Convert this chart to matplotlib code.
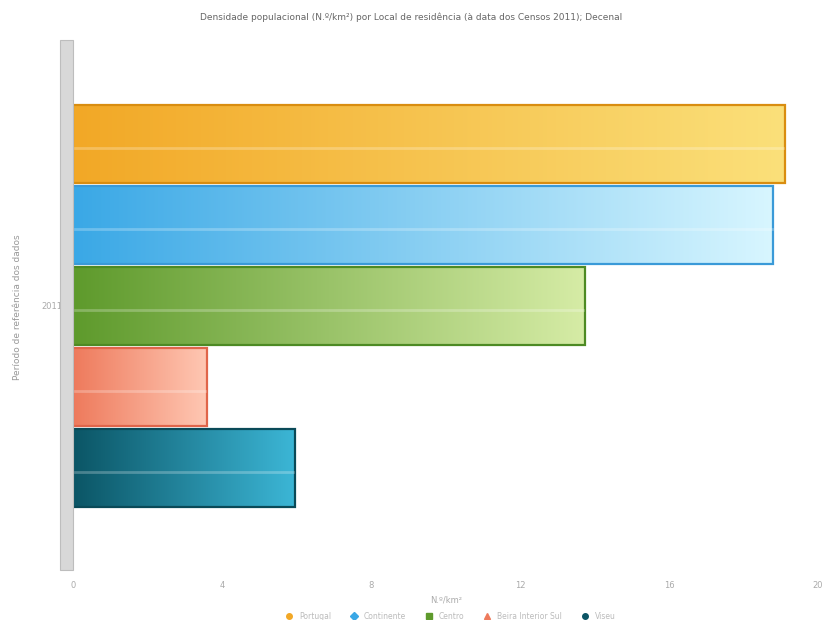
import numpy as np
import matplotlib.pyplot as plt
from matplotlib.colors import LinearSegmentedColormap
from matplotlib.patches import Rectangle
from matplotlib.lines import Line2D

plt.rcParams['font.family'] = ['DejaVu Sans']

series = ["Portugal", "Continente", "Centro", "Beira Interior Sul", "Viseu"]
values = [19.1, 18.8, 13.75, 3.6, 5.95]
period = "2011"
x_ticks = [0, 4, 8, 12, 16, 20]

# gradient (left, right) and edge colour per series
grads = [("#f2a826", "#fbe07a"), ("#3aa8e6", "#d8f6ff"), ("#5e9a2c", "#d6eca6"),
         ("#ee7a5c", "#ffc8b4"), ("#0b5565", "#3cb6d6")]
edges = ["#d98d10", "#3a9ad8", "#4d8a24", "#e0654a", "#0a4a58"]
markers = ["o", "D", "s", "^", "o"]

fig = plt.figure(figsize=(8.23, 6.2), dpi=100)
ax = fig.add_axes([0.089, 0.081, 0.905, 0.846])

# 3d back wall on the left
fig.patches.append(Rectangle((0.073, 0.081), 0.016, 0.855, transform=fig.transFigure,
                             facecolor="#d8d8d8", edgecolor="#bdbdbd", lw=0.8, zorder=0))

ys = np.arange(len(series))
h = 0.96
bars = ax.barh(ys, values, height=h, color="none", edgecolor=edges, linewidth=1.6, zorder=3)
grad = np.linspace(0, 1, 256).reshape(1, -1)
for b, (c0, c1), v, y in zip(bars, grads, values, ys):
    cmap = LinearSegmentedColormap.from_list("g", [c0, c1])
    im = ax.imshow(grad, cmap=cmap, aspect="auto", extent=[0, v, y + h / 2, y - h / 2],
                   zorder=2, interpolation="bicubic")
    im.set_clip_path(b)
    # light horizontal highlight band
    ax.plot([0.05, v - 0.05], [y + 0.05, y + 0.05], color="white", alpha=0.25, lw=2, zorder=4)

ax.set_xlim(0, 20)
ax.set_ylim(len(series) - 0.5 + 0.76, -0.5 - 0.72)
ax.set_xticks(x_ticks)
ax.set_xticklabels([str(t) for t in x_ticks], fontsize=6, color="#aaaaaa")
ax.set_yticks([2])
ax.set_yticklabels([period], fontsize=6, color="#aaaaaa")
ax.tick_params(length=0, pad=8)
for s in ax.spines.values():
    s.set_visible(False)
ax.set_xlabel("N.º/km²", fontsize=6, color="#aaaaaa", labelpad=4)
ax.set_ylabel("Período de referência dos dados", fontsize=6.5, color="#999999", labelpad=14)

fig.text(0.5, 0.968, "Densidade populacional (N.º/km²) por Local de residência (à data dos Censos 2011); Decenal",
         ha="center", fontsize=6.5, color="#666666")

handles = [Line2D([], [], marker=m, ls="none", color=c[0], markersize=4) for m, c in zip(markers, grads)]
fig.legend(handles, series, loc="lower center", bbox_to_anchor=(0.545, -0.012), ncol=5, frameon=False,
           fontsize=5.5, labelcolor="#bbbbbb", handletextpad=0.3, columnspacing=2)

fig.savefig("out.png", dpi=100, facecolor="white")
